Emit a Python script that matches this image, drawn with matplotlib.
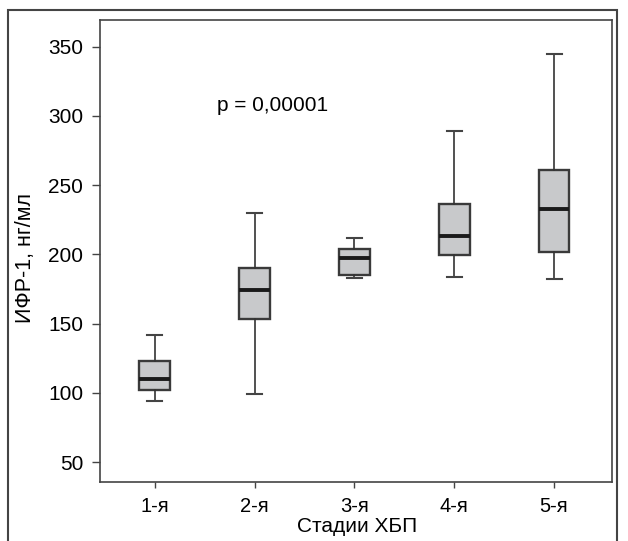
import matplotlib
matplotlib.use("Agg")
import matplotlib.pyplot as plt
from matplotlib.patches import Rectangle

plt.rcParams['font.family'] = ['Liberation Sans', 'DejaVu Sans']

# box statistics
stages = ['1-я', '2-я', '3-я', '4-я', '5-я']
whisk_lo = [94, 99, 183, 183.5, 182.5]
q1 = [102, 153, 185, 199.5, 201.5]
med = [110, 174.5, 197, 213.5, 233]
q3 = [123, 190, 204, 236.5, 261]
whisk_hi = [142, 230, 212, 289, 344.5]

stats = []
for i in range(len(stages)):
    stats.append({'whislo': whisk_lo[i], 'q1': q1[i], 'med': med[i],
                  'q3': q3[i], 'whishi': whisk_hi[i], 'fliers': []})

fig = plt.figure(figsize=(6.28, 5.41), dpi=100)
ax = fig.add_axes([0.1592, 0.1091, 0.8153, 0.854])

ax.bxp(stats, positions=range(1, 6), widths=0.31, showfliers=False,
       patch_artist=True, capwidths=0.15,
       boxprops=dict(facecolor='#c8c9cb', edgecolor='#3a3a3a', linewidth=1.7),
       medianprops=dict(color='#1a1a1a', linewidth=2.8),
       whiskerprops=dict(color='#333333', linewidth=1.2),
       capprops=dict(color='#444444', linewidth=1.5))

ax.set_xlim(0.449, 5.581)
ax.set_ylim(35.6, 369.2)
ax.set_yticks([50, 100, 150, 200, 250, 300, 350])
ax.set_xticks(range(1, 6))
ax.set_xticklabels(stages)

for s in ax.spines.values():
    s.set_color('#444444')
    s.set_linewidth(1.2)
ax.tick_params(axis='y', length=6, width=1, color='#444444', labelsize=15, pad=6)
ax.tick_params(axis='x', length=4.5, width=1, color='#444444', labelsize=14.5, pad=6)

ax.set_ylabel('ИФР-1, нг/мл', fontsize=15.5)
ax.yaxis.set_label_coords(-0.125, 0.485)
ax.set_xlabel('Стадии ХБП', fontsize=15)
ax.xaxis.set_label_coords(0.503, -0.075)

ax.text(1.619, 303.5, 'p = 0,00001', fontsize=15, ha='left', va='baseline')

# outer frame around the figure
fig.add_artist(Rectangle((0.0127, -0.01), 0.97, 0.9915, transform=fig.transFigure,
                         fill=False, edgecolor='#444444', linewidth=1.5))

fig.savefig('out.png', dpi=100)
